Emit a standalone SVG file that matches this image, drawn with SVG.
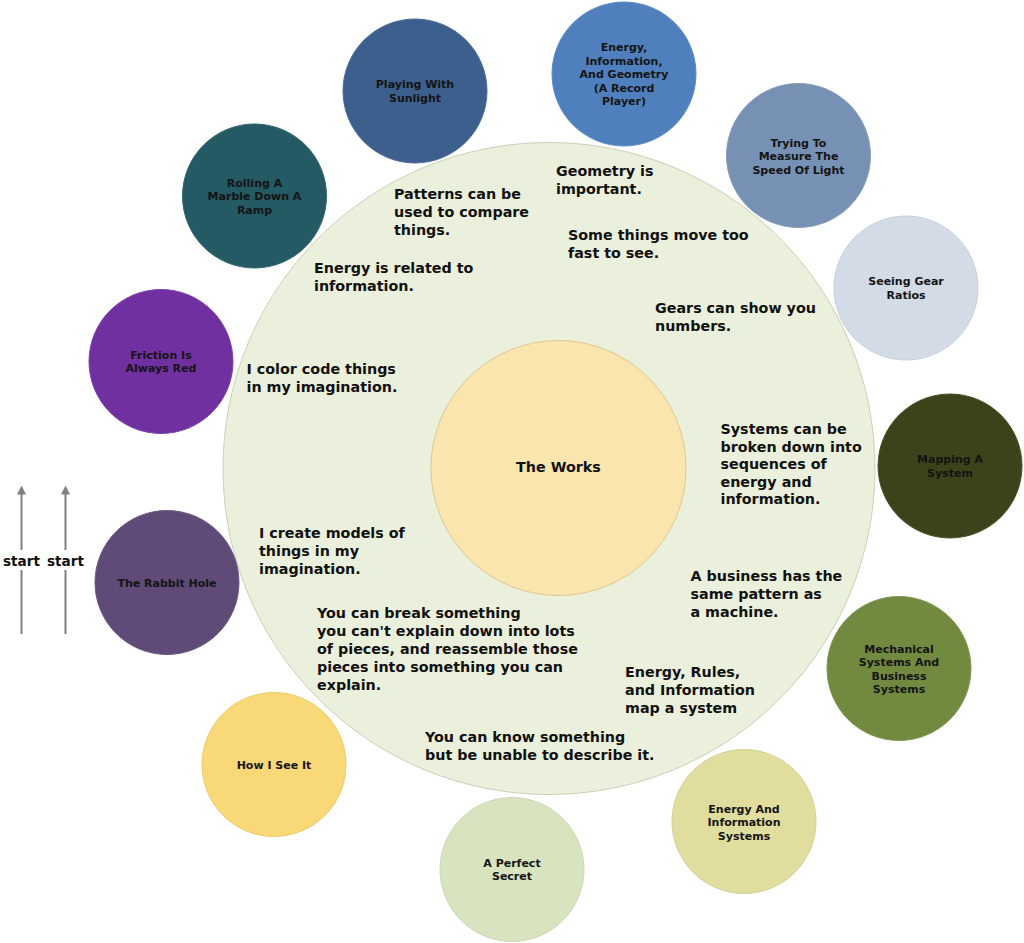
<svg xmlns="http://www.w3.org/2000/svg" width="1024" height="943" viewBox="0 0 1024 943">
<style>
text{font-family:"DejaVu Sans","Verdana",sans-serif;font-weight:bold}
.big{font-size:14.3px;fill:#111}
.sm{font-size:11px;fill:#141414;text-anchor:middle}
.node{stroke-width:1}
.conn{stroke:#808080;stroke-width:2;fill:none}
.lbl{font-size:13.6px;fill:#111;text-anchor:middle}
</style>
<defs>
<marker id="arr" viewBox="0 0 9 9" refX="0.5" refY="4.5" markerWidth="9" markerHeight="9" markerUnits="userSpaceOnUse" orient="auto">
<path d="M0,0 L9,4.5 L0,9 Z" fill="#808080"/>
</marker>
</defs>
<rect width="1024" height="943" fill="#fff"/>
<g id="outer">
<circle cx="549" cy="468.5" r="326" fill="#ebf0dc" stroke="#c9d0b6" stroke-width="1"/>
<text class="big" x="556" y="176">Geometry is</text>
<text class="big" x="556" y="194">important.</text>
<text class="big" x="394" y="199">Patterns can be</text>
<text class="big" x="394" y="217">used to compare</text>
<text class="big" x="394" y="235">things.</text>
<text class="big" x="568" y="240">Some things move too</text>
<text class="big" x="568" y="258">fast to see.</text>
<text class="big" x="314" y="273">Energy is related to</text>
<text class="big" x="314" y="291">information.</text>
<text class="big" x="655" y="313">Gears can show you</text>
<text class="big" x="655" y="331">numbers.</text>
<text class="big" x="246.5" y="374">I color code things</text>
<text class="big" x="246.5" y="392">in my imagination.</text>
<text class="big" x="720.5" y="434">Systems can be</text>
<text class="big" x="720.5" y="451.5">broken down into</text>
<text class="big" x="720.5" y="469">sequences of</text>
<text class="big" x="720.5" y="486.5">energy and</text>
<text class="big" x="720.5" y="504">information.</text>
<text class="big" x="259" y="538">I create models of</text>
<text class="big" x="259" y="556">things in my</text>
<text class="big" x="259" y="573.5">imagination.</text>
<text class="big" x="690.5" y="581">A business has the</text>
<text class="big" x="690.5" y="599">same pattern as</text>
<text class="big" x="690.5" y="617">a machine.</text>
<text class="big" x="317" y="617.5">You can break something</text>
<text class="big" x="317" y="635.5">you can't explain down into lots</text>
<text class="big" x="317" y="653.5">of pieces, and reassemble those</text>
<text class="big" x="317" y="671.5">pieces into something you can</text>
<text class="big" x="317" y="689.5">explain.</text>
<text class="big" x="625" y="677">Energy, Rules,</text>
<text class="big" x="625" y="695">and Information</text>
<text class="big" x="625" y="712.5">map a system</text>
<text class="big" x="425" y="742">You can know something</text>
<text class="big" x="425" y="759.5">but be unable to describe it.</text>
</g>
<g id="the-works">
<circle cx="558.5" cy="468" r="127.5" fill="#fbe5ae" stroke="#dcc98f" stroke-width="1"/>
<text x="558.5" y="472" style="font-size:14.3px;fill:#111;text-anchor:middle">The Works</text>
</g>
<g id="n-sunlight">
<circle class="node" cx="415" cy="91" r="72" fill="#3d5f8d" stroke="#4a6b97"/>
<text class="sm" x="415" y="88">Playing With</text>
<text class="sm" x="415" y="102">Sunlight</text>
</g>
<g id="n-record">
<circle class="node" cx="624" cy="74" r="72" fill="#4f80bd" stroke="#5c8bc3"/>
<text class="sm" x="624" y="51">Energy,</text>
<text class="sm" x="624" y="64.5">Information,</text>
<text class="sm" x="624" y="78">And Geometry</text>
<text class="sm" x="624" y="91.5">(A Record</text>
<text class="sm" x="624" y="105">Player)</text>
</g>
<g id="n-light">
<circle class="node" cx="798.5" cy="155.5" r="72" fill="#7791b4" stroke="#839bbc"/>
<text class="sm" x="798.5" y="146.5">Trying To</text>
<text class="sm" x="798.5" y="160">Measure The</text>
<text class="sm" x="798.5" y="173.5">Speed Of Light</text>
</g>
<g id="n-gear">
<circle class="node" cx="906" cy="288" r="72" fill="#d3dbe7" stroke="#c8d0dc"/>
<text class="sm" x="906" y="285">Seeing Gear</text>
<text class="sm" x="906" y="298.5">Ratios</text>
</g>
<g id="n-mapping">
<circle class="node" cx="950" cy="466" r="72" fill="#3b431b" stroke="#4a5228"/>
<text class="sm" x="950" y="463">Mapping A</text>
<text class="sm" x="950" y="476.5">System</text>
</g>
<g id="n-mechanical">
<circle class="node" cx="899" cy="668.5" r="72" fill="#728a40" stroke="#7f964e"/>
<text class="sm" x="899" y="652.5">Mechanical</text>
<text class="sm" x="899" y="666">Systems And</text>
<text class="sm" x="899" y="679.5">Business</text>
<text class="sm" x="899" y="693">Systems</text>
</g>
<g id="n-eis">
<circle class="node" cx="744" cy="821.5" r="72" fill="#e0dd9e" stroke="#d5d293"/>
<text class="sm" x="744" y="812.5">Energy And</text>
<text class="sm" x="744" y="826">Information</text>
<text class="sm" x="744" y="839.5">Systems</text>
</g>
<g id="n-secret">
<circle class="node" cx="512" cy="869.5" r="72" fill="#d8e3bf" stroke="#cdd8b4"/>
<text class="sm" x="512" y="866.5">A Perfect</text>
<text class="sm" x="512" y="880">Secret</text>
</g>
<g id="n-howisee">
<circle class="node" cx="274" cy="764.5" r="72" fill="#f9d878" stroke="#ecca6c"/>
<text class="sm" x="274" y="768.5">How I See It</text>
</g>
<g id="n-rabbit">
<circle class="node" cx="167" cy="582.5" r="72" fill="#5f4a78" stroke="#6b5783"/>
<text class="sm" x="167" y="586.5">The Rabbit Hole</text>
</g>
<g id="n-friction">
<circle class="node" cx="161" cy="361.5" r="72" fill="#7030a0" stroke="#7c3faa"/>
<text class="sm" x="161" y="358.5">Friction Is</text>
<text class="sm" x="161" y="372">Always Red</text>
</g>
<g id="n-marble">
<circle class="node" cx="254.5" cy="196" r="72" fill="#245a64" stroke="#306570"/>
<text class="sm" x="254.5" y="186.5">Rolling A</text>
<text class="sm" x="254.5" y="200">Marble Down A</text>
<text class="sm" x="254.5" y="213.5">Ramp</text>
</g>
<g id="connectors">
<line class="conn" x1="21.5" y1="634" x2="21.5" y2="494" marker-end="url(#arr)"/>
<line class="conn" x1="65.5" y1="634" x2="65.5" y2="494" marker-end="url(#arr)"/>
<rect x="2" y="550" width="39" height="20" fill="#fff"/>
<rect x="46" y="550" width="39" height="20" fill="#fff"/>
<text class="lbl" x="21.5" y="566">start</text>
<text class="lbl" x="65.5" y="566">start</text>
</g>
</svg>
